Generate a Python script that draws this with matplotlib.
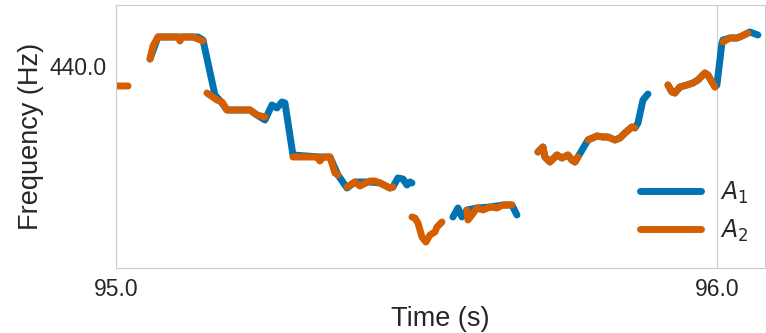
import matplotlib
matplotlib.use("Agg")
import matplotlib.pyplot as plt
import numpy as np
import seaborn as sns

nan = np.nan

# pitch track of voice A1 (drawn underneath)
t_a1 = [95.0566, 95.0699, 95.1032, 95.1364, 95.1448, 95.1647, 95.1764, 95.1847,
        95.2230, 95.2346, 95.2479, 95.2596, 95.2679, 95.2762, 95.2812, 95.2945,
        95.3394, 95.3561, 95.3694, 95.3844, 95.3977, 95.4226, 95.4393, 95.4559,
        95.4609, 95.4692, 95.4775, 95.4842, 95.4892, 95.4925, nan,
        95.5607, 95.5691, 95.5757, 95.5807, 95.5840, 95.6007, 95.6223, 95.6439,
        95.6589, 95.6672, nan,
        95.7022, 95.7105, 95.7138, 95.7221, 95.7338, 95.7421, 95.7521, 95.7587,
        95.7637, 95.7687, 95.7854, 95.8003, 95.8103, 95.8186, 95.8303, 95.8386,
        95.8469, 95.8586, 95.8636, 95.8686, 95.8769, 95.8852, nan,
        95.9185, 95.9251, 95.9301, 95.9384, 95.9501, 95.9601, 95.9684, 95.9800,
        95.9850, 95.9917, 95.9967, 96.0000, 96.0083, 96.0100, 96.0216, 96.0333,
        96.0416, 96.0516, 96.0549, 96.0682]
f_a1 = [440.7, 442.9, 442.9, 442.9, 442.6, 437.1, 436.3, 435.6,
        435.6, 435.1, 434.6, 436.1, 435.8, 436.4, 436.3, 431.1,
        430.9, 430.9, 429.1, 427.8, 428.4, 428.4, 428.3, 427.8,
        427.9, 428.8, 428.7, 428.1, 428.4, 428.3, nan,
        424.9, 425.8, 424.9, 425.3, 425.6, 425.8, 425.9, 426.1,
        426.1, 425.1, nan,
        431.4, 431.9, 430.9, 430.4, 431.1, 430.8, 431.1, 430.6,
        430.4, 430.9, 432.6, 433.0, 432.9, 432.9, 432.6, 432.8,
        433.3, 433.9, 433.8, 434.3, 436.6, 437.2, nan,
        438.1, 437.4, 437.3, 437.9, 438.1, 438.3, 438.6, 439.3,
        439.1, 438.4, 437.9, 438.1, 442.3, 442.6, 442.8, 442.8,
        443.0, 443.3, 443.4, 443.1]

# pitch track of voice A2 (drawn on top)
t_a2 = [95.0000, 95.0200, nan,
        95.0566, 95.0616, 95.0699, 95.1032, 95.1065, 95.1100, 95.1280, 95.1448, nan,
        95.1514, 95.1681, 95.1764, 95.1847, 95.2230, 95.2346, 95.2479, nan,
        95.2945, 95.3344, 95.3394, 95.3444, 95.3561, 95.3644, 95.3694, nan,
        95.3844, 95.3977, 95.4060, 95.4226, 95.4309, 95.4393, 95.4559, 95.4609, nan,
        95.4925, 95.4975, 95.5025, 95.5092, 95.5158, 95.5225, 95.5308, 95.5341,
        95.5424, nan,
        95.5840, 95.5857, 95.5923, 95.6007, 95.6106, 95.6223, 95.6339, 95.6439,
        95.6589, nan,
        95.7022, 95.7105, 95.7138, 95.7221, 95.7338, 95.7421, 95.7521, 95.7587,
        95.7637, 95.7687, nan,
        95.7854, 95.8003, 95.8103, 95.8186, 95.8303, 95.8386, 95.8469, 95.8586,
        95.8636, nan,
        95.9185, 95.9251, 95.9301, 95.9384, 95.9501, 95.9601, 95.9684, 95.9800,
        95.9850, 95.9917, 95.9967, nan,
        96.0100, 96.0216, 96.0333, 96.0416, 96.0516]
f_a2 = [438.0, 438.0, nan,
        440.7, 442.0, 442.9, 442.9, 442.5, 442.9, 442.9, 442.5, nan,
        437.3, 436.6, 436.4, 435.6, 435.6, 435.1, 434.9, nan,
        430.9, 430.9, 430.5, 430.9, 430.9, 429.3, 429.1, nan,
        427.9, 428.4, 428.0, 428.5, 428.5, 428.3, 427.8, 427.9, nan,
        424.9, 424.8, 424.3, 422.9, 422.4, 423.1, 423.4, 423.9,
        424.4, nan,
        425.6, 424.6, 425.1, 425.8, 425.6, 425.9, 425.8, 426.1,
        426.1, nan,
        431.4, 431.9, 430.9, 430.4, 431.1, 430.8, 431.1, 430.6,
        430.4, 430.9, nan,
        432.6, 433.0, 432.9, 432.9, 432.6, 432.8, 433.3, 433.9,
        433.8, nan,
        438.1, 437.4, 437.3, 437.9, 438.1, 438.3, 438.6, 439.3,
        439.1, 438.4, 437.9, nan,
        442.4, 442.8, 442.8, 443.0, 443.3]

x_ticks = [95.0, 96.0]
y_ticks = [440.0]

sns.set_style("whitegrid")
plt.rcParams['font.family'] = ['Liberation Sans', 'DejaVu Sans']

fig = plt.figure(figsize=(7.66, 3.33), dpi=100)
ax = fig.add_axes([0.1514, 0.1952, 0.8473, 0.7898])

ax.plot(t_a1, f_a1, color='#0173b2', lw=5, solid_capstyle='round',
        solid_joinstyle='round', label='$A_1$')
ax.plot(t_a2, f_a2, color='#d55e00', lw=5, solid_capstyle='round',
        solid_joinstyle='round', label='$A_2$')

ax.set_xlim(95.0, 96.08)
ax.set_ylim(419.8, 446.1)
ax.set_xticks(x_ticks)
ax.set_yticks(y_ticks)
ax.set_xticklabels([f"{v:.1f}" for v in x_ticks], fontsize=16.5)
ax.set_yticklabels([f"{v:.1f}" for v in y_ticks], fontsize=16.5)
ax.yaxis.grid(False)
ax.set_xlabel("Time (s)", fontsize=19.5)
ax.set_ylabel("Frequency (Hz)", fontsize=19.5)

leg = ax.legend(loc='lower right', bbox_to_anchor=(1.0, 0.03), frameon=False,
                fontsize=17, handlelength=2.6, borderaxespad=0.3)
for line in leg.get_lines():
    line.set_linewidth(5)

fig.savefig("out.png", dpi=100)
